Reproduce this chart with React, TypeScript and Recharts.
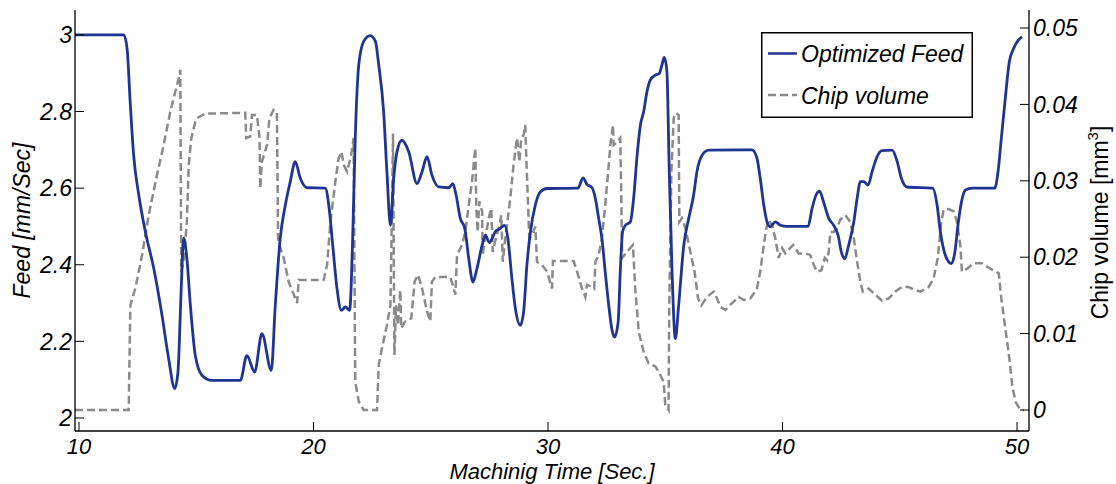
import { LineChart, Line, XAxis, YAxis, Legend, Label } from 'recharts'

// Optimized feed (time in s, feed in mm/s)
const feedTime = [
  9.83, 11.91, 12.05, 12.19, 12.33, 12.55, 12.83, 13.19, 13.54, 13.82, 14.08, 14.22, 14.36, 14.46, 14.6, 14.75,
  14.96, 15.25, 15.67, 16.88, 17.16, 17.49, 17.8, 18.2, 18.37, 18.58, 18.8, 19.01, 19.22, 19.44, 19.72, 20.5,
  20.65, 20.82, 21.0, 21.19, 21.36, 21.54, 21.67, 21.78, 21.93, 22.14, 22.42, 22.64, 22.78, 22.99, 23.13, 23.28,
  23.42, 23.56, 23.77, 24.06, 24.41, 24.63, 24.84, 25.05, 25.34, 25.77, 25.94, 26.08, 26.26, 26.45, 26.62, 26.8,
  26.97, 27.19, 27.33, 27.5, 27.75, 27.97, 28.15, 28.29, 28.46, 28.61, 28.82, 28.96, 29.1, 29.25, 29.46, 29.67,
  29.96, 31.28, 31.49, 31.66, 31.88, 32.02, 32.16, 32.3, 32.44, 32.59, 32.73, 32.84, 32.99, 33.08, 33.18, 33.3,
  33.51, 33.65, 33.8, 33.94, 34.08, 34.22, 34.36, 34.58, 34.75, 34.86, 34.96, 35.07, 35.17, 35.29, 35.43, 35.57,
  35.79, 36.0, 36.21, 36.35, 36.57, 36.85, 38.7, 38.91, 39.05, 39.2, 39.34, 39.48, 39.69, 39.91, 40.19, 41.09,
  41.26, 41.43, 41.58, 41.75, 41.97, 42.18, 42.37, 42.51, 42.65, 42.82, 43.04, 43.18, 43.32, 43.46, 43.65, 43.82,
  44.03, 44.24, 44.67, 44.89, 45.07, 45.31, 46.4, 46.59, 46.73, 46.9, 47.09, 47.2, 47.35, 47.48, 47.63, 47.8,
  48.08, 49.05, 49.19, 49.33, 49.5, 49.67, 49.86, 50.04, 50.21,
]
const feedValue = [
  3.0, 3.0, 2.965, 2.817, 2.686, 2.582, 2.486, 2.39, 2.268, 2.156, 2.077, 2.12, 2.339, 2.47, 2.417, 2.294,
  2.163, 2.111, 2.098, 2.098, 2.163, 2.12, 2.22, 2.124, 2.294, 2.468, 2.556, 2.617, 2.669, 2.625, 2.601, 2.6,
  2.556, 2.451, 2.339, 2.281, 2.29, 2.281, 2.468, 2.73, 2.922, 2.983, 2.998, 2.983, 2.922, 2.8, 2.643, 2.503,
  2.625, 2.695, 2.725, 2.695, 2.612, 2.643, 2.682, 2.634, 2.603, 2.601, 2.612, 2.582, 2.521, 2.495, 2.416, 2.355,
  2.39, 2.451, 2.477, 2.458, 2.486, 2.495, 2.503, 2.468, 2.364, 2.285, 2.242, 2.277, 2.399, 2.486, 2.556, 2.59,
  2.599, 2.6, 2.627, 2.61, 2.601, 2.573, 2.521, 2.468, 2.381, 2.294, 2.229, 2.211, 2.25, 2.381, 2.486, 2.503,
  2.512, 2.573, 2.686, 2.765, 2.8, 2.852, 2.882, 2.895, 2.9, 2.922, 2.941, 2.904, 2.643, 2.381, 2.207, 2.294,
  2.451, 2.521, 2.582, 2.643, 2.686, 2.699, 2.7, 2.678, 2.625, 2.556, 2.512, 2.499, 2.512, 2.503, 2.5, 2.5,
  2.547, 2.582, 2.592, 2.564, 2.521, 2.503, 2.477, 2.433, 2.416, 2.451, 2.512, 2.573, 2.617, 2.617, 2.608, 2.643,
  2.682, 2.698, 2.699, 2.669, 2.625, 2.603, 2.6, 2.556, 2.486, 2.433, 2.407, 2.403, 2.433, 2.503, 2.564, 2.595,
  2.6, 2.6, 2.643, 2.73, 2.835, 2.93, 2.965, 2.985, 2.995,
]

// Chip volume (mm^3)
const chipTime = [
  9.83, 12.12, 12.19, 12.4, 12.69, 12.97, 13.33, 13.61, 13.89, 14.11, 14.25, 14.32, 14.36, 14.46, 14.6, 14.68,
  14.79, 14.96, 15.03, 15.39, 17.09, 17.13, 17.3, 17.38, 17.59, 17.7, 17.73, 17.8, 18.02, 18.12, 18.3, 18.44,
  18.49, 18.54, 18.73, 18.94, 19.16, 19.3, 19.37, 20.43, 20.58, 20.72, 20.93, 21.07, 21.19, 21.29, 21.43, 21.61,
  21.71, 21.78, 21.93, 22.14, 22.71, 22.78, 22.92, 23.13, 23.28, 23.35, 23.39, 23.45, 23.52, 23.6, 23.7, 23.74,
  23.91, 24.17, 24.31, 24.46, 24.63, 24.84, 24.98, 25.05, 25.2, 25.83, 25.93, 26.05, 26.12, 26.33, 26.47, 26.62,
  26.76, 26.9, 26.94, 27.0, 27.07, 27.19, 27.21, 27.33, 27.47, 27.58, 27.64, 27.78, 27.9, 28.01, 28.07, 28.18,
  28.39, 28.53, 28.68, 28.78, 28.86, 28.96, 29.03, 29.07, 29.15, 29.2, 29.32, 29.46, 29.53, 29.74, 29.96, 30.17,
  30.21, 31.09, 31.24, 31.45, 31.59, 31.66, 31.88, 31.97, 32.02, 32.16, 32.3, 32.44, 32.59, 32.66, 32.77, 32.8,
  32.94, 33.08, 33.12, 33.16, 33.37, 33.62, 33.72, 33.87, 34.08, 34.29, 34.58, 34.72, 34.93, 35.0, 35.14, 35.17,
  35.26, 35.36, 35.45, 35.57, 35.6, 35.71, 35.86, 36.07, 36.25, 36.4, 36.54, 36.78, 37.06, 37.21, 37.35, 37.56,
  37.85, 38.13, 38.35, 38.63, 38.91, 39.05, 39.2, 39.31, 39.41, 39.55, 39.69, 39.84, 39.98, 40.12, 40.45, 40.69,
  40.97, 41.18, 41.33, 41.47, 41.66, 41.8, 41.9, 41.97, 42.04, 42.18, 42.32, 42.46, 42.68, 42.89, 43.04, 43.18,
  43.32, 43.42, 43.67, 43.96, 44.24, 44.53, 44.81, 45.1, 45.38, 45.66, 45.88, 46.23, 46.44, 46.62, 46.77, 46.87,
  47.09, 47.3, 47.44, 47.58, 47.65, 47.87, 48.15, 48.51, 48.86, 49.22, 49.33, 49.5, 49.67, 49.79, 49.93, 50.14,
  50.3,
]
const chipValue = [
  0, 0, 0.0137, 0.0159, 0.0203, 0.0255, 0.0308, 0.0347, 0.039, 0.0417, 0.0434, 0.0445, 0.0181, 0.0194, 0.0246, 0.0321,
  0.0356, 0.0377, 0.0382, 0.0388, 0.0389, 0.0356, 0.0358, 0.0386, 0.0386, 0.0356, 0.029, 0.0325, 0.0347, 0.0382, 0.0393, 0.039,
  0.0225, 0.0216, 0.0199, 0.0168, 0.0151, 0.014, 0.017, 0.017, 0.019, 0.0246, 0.0299, 0.0329, 0.0338, 0.0321, 0.0312, 0.0334,
  0.0356, 0.0037, 0.0011, 0, 0, 0.0059, 0.0081, 0.0111, 0.0137, 0.0268, 0.0362, 0.0072, 0.0137, 0.0111, 0.0157, 0.0107,
  0.0116, 0.012, 0.0168, 0.0177, 0.0159, 0.0129, 0.0116, 0.0168, 0.0174, 0.0174, 0.0164, 0.0151, 0.0203, 0.0216, 0.0233, 0.0268,
  0.0299, 0.0343, 0.0268, 0.0233, 0.0273, 0.026, 0.0203, 0.0225, 0.0251, 0.0264, 0.0207, 0.0225, 0.0238, 0.0255, 0.0194, 0.0225,
  0.0277, 0.0321, 0.0356, 0.0325, 0.0356, 0.036, 0.0373, 0.0334, 0.0268, 0.0225, 0.0229, 0.024, 0.0194, 0.019, 0.0181, 0.0159,
  0.0195, 0.0195, 0.0181, 0.0159, 0.0148, 0.0164, 0.0161, 0.0159, 0.0194, 0.0203, 0.0225, 0.0268, 0.0321, 0.0347, 0.0373, 0.0347,
  0.0351, 0.0356, 0.029, 0.0199, 0.0207, 0.0216, 0.0159, 0.0102, 0.0076, 0.0061, 0.0057, 0.005, 0.0037, 0.0007, 0, 0.0137,
  0.0312, 0.0382, 0.0389, 0.0386, 0.0246, 0.0251, 0.0238, 0.0207, 0.0181, 0.0146, 0.0137, 0.0148, 0.0155, 0.0146, 0.0135, 0.0131,
  0.014, 0.0148, 0.0144, 0.0146, 0.0159, 0.0181, 0.0216, 0.0238, 0.0249, 0.0242, 0.0225, 0.0199, 0.0212, 0.0205, 0.0216, 0.0205,
  0.0205, 0.0203, 0.019, 0.0181, 0.0183, 0.0199, 0.0196, 0.0207, 0.0233, 0.0233, 0.0238, 0.0249, 0.0255, 0.0246, 0.0225, 0.0194,
  0.0168, 0.0155, 0.0159, 0.0151, 0.0143, 0.0146, 0.0155, 0.0161, 0.0161, 0.0157, 0.0155, 0.0161, 0.0172, 0.0199, 0.0246, 0.0262,
  0.0263, 0.026, 0.0246, 0.0216, 0.0181, 0.0185, 0.0192, 0.0192, 0.0185, 0.0179, 0.0146, 0.0107, 0.0068, 0.0033, 0.0011, 0,
  0,
]

const timeTicks = [10, 20, 30, 40, 50]
const feedTicks = [2, 2.2, 2.4, 2.6, 2.8, 3]
const chipTicks = [0, 0.01, 0.02, 0.03, 0.04, 0.05]

const feedData = feedTime.map((t, i) => ({ t, feed: feedValue[i] }))
const chipData = chipTime.map((t, i) => ({ t, chip: chipValue[i] }))

const BLUE = '#1f3594'
const GREY = '#8a8a8a'
const tickStyle = { fill: '#000', fontSize: 23, fontStyle: 'italic' }
const xTickStyle = { fill: '#000', fontSize: 22, fontStyle: 'italic' }

function FeedTitle(props: any) {
  const vb = props.viewBox || { x: 0, y: 10, width: 75, height: 421 }
  const cx = vb.x + 30
  const cy = vb.y + vb.height / 2
  return (
    <text x={cx} y={cy} transform={`rotate(-90 ${cx} ${cy})`} textAnchor="middle"
      fontSize={23} fontStyle="italic" fill="#000">
      Feed [mm/Sec]
    </text>
  )
}

function ChipTitle(props: any) {
  const vb = props.viewBox || { x: 1029, y: 10, width: 87, height: 421 }
  const cx = vb.x + 79
  const cy = vb.y + vb.height / 2 + 2
  return (
    <text x={cx} y={cy} transform={`rotate(-90 ${cx} ${cy})`} textAnchor="middle" fontSize={23} fill="#000">
      Chip volume [mm<tspan dy={-10} fontSize={15}>3</tspan><tspan dy={10}>]</tspan>
    </text>
  )
}

function TimeTitle(props: any) {
  const vb = props.viewBox || { x: 75, y: 431, width: 954, height: 53 }
  return (
    <text x={vb.x + vb.width / 2} y={vb.y + 48} textAnchor="middle" fontSize={22} fontStyle="italic" fill="#000">
      Machinig Time [Sec.]
    </text>
  )
}

function LegendBox() {
  return (
    <svg width={212} height={86} style={{ display: 'block' }}>
      <rect x={0.75} y={0.75} width={210.5} height={84.5} fill="#fff" stroke="#000" strokeWidth={1.5} />
      <line x1={7} y1={21.5} x2={36} y2={21.5} stroke={BLUE} strokeWidth={2.5} />
      <text x={40} y={30} fontSize={23} fontStyle="italic" fill="#000">Optimized Feed</text>
      <line x1={7} y1={63} x2={36} y2={63} stroke={GREY} strokeWidth={2.5} strokeDasharray="8 4" />
      <text x={40} y={72} fontSize={23} fontStyle="italic" fill="#000">Chip volume</text>
    </svg>
  )
}

export default function App() {
  return (
    <div style={{ position: 'absolute', left: 0, top: 0, fontFamily: '"Liberation Sans", Arial, sans-serif', background: '#fff' }}>
      <LineChart width={1116} height={484} margin={{ top: 10, right: 0, bottom: 0, left: 0 }}>
        <XAxis
          dataKey="t"
          type="number"
          domain={[9.83, 50.51]}
          allowDataOverflow
          ticks={timeTicks}
          interval={0}
          height={53}
          tick={xTickStyle}
          tickSize={-9}
          tickMargin={16}
          axisLine={{ stroke: '#000', strokeWidth: 1.3 }}
          tickLine={{ stroke: '#000' }}
        >
          <Label content={TimeTitle} />
        </XAxis>
        <XAxis
          xAxisId="top"
          orientation="top"
          type="number"
          dataKey="t"
          domain={[9.83, 50.51]}
          allowDataOverflow
          height={0}
          tick={false}
          tickLine={false}
          axisLine={{ stroke: '#000', strokeWidth: 1.3 }}
        />
        <YAxis
          yAxisId="feed"
          orientation="left"
          width={75}
          type="number"
          domain={[1.966, 3.065]}
          allowDataOverflow
          ticks={feedTicks}
          interval={0}
          tick={tickStyle}
          tickSize={-9}
          tickMargin={12}
          axisLine={{ stroke: '#000', strokeWidth: 1.3 }}
          tickLine={{ stroke: '#000' }}
        >
          <Label content={FeedTitle} />
        </YAxis>
        <YAxis
          yAxisId="chip"
          orientation="right"
          width={87}
          type="number"
          domain={[-0.00275, 0.05236]}
          allowDataOverflow
          ticks={chipTicks}
          interval={0}
          tick={tickStyle}
          tickSize={-9}
          tickMargin={13}
          axisLine={{ stroke: '#000', strokeWidth: 1.3 }}
          tickLine={{ stroke: '#000' }}
        >
          <Label content={ChipTitle} />
        </YAxis>
        <Legend
          layout="horizontal"
          verticalAlign="middle"
          align="center"
          wrapperStyle={{ position: 'absolute', left: 761, top: 32, width: 212, height: 86 }}
          content={() => <LegendBox />}
        />
        <Line
          data={chipData}
          dataKey="chip"
          yAxisId="chip"
          type="linear"
          stroke={GREY}
          strokeWidth={2.5}
          strokeDasharray="8 4"
          dot={false}
          activeDot={false}
          isAnimationActive={false}
        />
        <Line
          data={feedData}
          dataKey="feed"
          yAxisId="feed"
          type="monotone"
          stroke={BLUE}
          strokeWidth={2.8}
          dot={false}
          activeDot={false}
          isAnimationActive={false}
        />
      </LineChart>
    </div>
  )
}
